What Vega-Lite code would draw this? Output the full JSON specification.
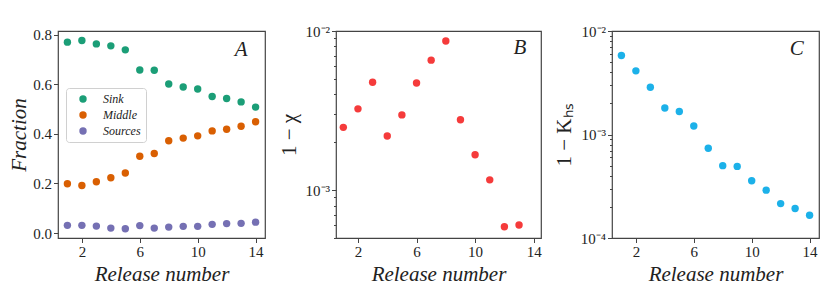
{
  "$schema": "https://vega.github.io/schema/vega-lite/v6.json",
  "padding": {"left": 8, "top": 23, "right": 10, "bottom": 3},
  "background": "white",
  "config": {
    "font": "Liberation Serif",
    "view": {"stroke": "#444", "strokeWidth": 1.2},
    "axis": {
      "grid": false, "domain": false,
      "tickColor": "#444", "tickWidth": 1, "tickSize": 4.5,
      "labelFont": "Liberation Serif", "labelFontSize": 15, "labelColor": "#222", "labelPadding": 2,
      "titleFont": "Liberation Serif", "titleFontSize": 21, "titleFontWeight": "normal", "titleFontStyle": "italic", "titleColor": "#222"
    }
  },
  "datasets": {
    "frac": [
      {"release": 1, "group": "Sink", "fraction": 0.770},
      {"release": 2, "group": "Sink", "fraction": 0.777},
      {"release": 3, "group": "Sink", "fraction": 0.763},
      {"release": 4, "group": "Sink", "fraction": 0.755},
      {"release": 5, "group": "Sink", "fraction": 0.739},
      {"release": 6, "group": "Sink", "fraction": 0.658},
      {"release": 7, "group": "Sink", "fraction": 0.657},
      {"release": 8, "group": "Sink", "fraction": 0.601},
      {"release": 9, "group": "Sink", "fraction": 0.589},
      {"release": 10, "group": "Sink", "fraction": 0.581},
      {"release": 11, "group": "Sink", "fraction": 0.551},
      {"release": 12, "group": "Sink", "fraction": 0.543},
      {"release": 13, "group": "Sink", "fraction": 0.529},
      {"release": 14, "group": "Sink", "fraction": 0.508},
      {"release": 1, "group": "Middle", "fraction": 0.199},
      {"release": 2, "group": "Middle", "fraction": 0.192},
      {"release": 3, "group": "Middle", "fraction": 0.207},
      {"release": 4, "group": "Middle", "fraction": 0.223},
      {"release": 5, "group": "Middle", "fraction": 0.242},
      {"release": 6, "group": "Middle", "fraction": 0.310},
      {"release": 7, "group": "Middle", "fraction": 0.321},
      {"release": 8, "group": "Middle", "fraction": 0.372},
      {"release": 9, "group": "Middle", "fraction": 0.383},
      {"release": 10, "group": "Middle", "fraction": 0.392},
      {"release": 11, "group": "Middle", "fraction": 0.412},
      {"release": 12, "group": "Middle", "fraction": 0.419},
      {"release": 13, "group": "Middle", "fraction": 0.431},
      {"release": 14, "group": "Middle", "fraction": 0.449},
      {"release": 1, "group": "Sources", "fraction": 0.031},
      {"release": 2, "group": "Sources", "fraction": 0.031},
      {"release": 3, "group": "Sources", "fraction": 0.028},
      {"release": 4, "group": "Sources", "fraction": 0.020},
      {"release": 5, "group": "Sources", "fraction": 0.017},
      {"release": 6, "group": "Sources", "fraction": 0.030},
      {"release": 7, "group": "Sources", "fraction": 0.020},
      {"release": 8, "group": "Sources", "fraction": 0.024},
      {"release": 9, "group": "Sources", "fraction": 0.027},
      {"release": 10, "group": "Sources", "fraction": 0.027},
      {"release": 11, "group": "Sources", "fraction": 0.035},
      {"release": 12, "group": "Sources", "fraction": 0.038},
      {"release": 13, "group": "Sources", "fraction": 0.039},
      {"release": 14, "group": "Sources", "fraction": 0.044}
    ],
    "chi": [
      {"release": 1, "value": 0.00248},
      {"release": 2, "value": 0.00324},
      {"release": 3, "value": 0.00476},
      {"release": 4, "value": 0.00219},
      {"release": 5, "value": 0.00297},
      {"release": 6, "value": 0.00471},
      {"release": 7, "value": 0.00656},
      {"release": 8, "value": 0.00865},
      {"release": 9, "value": 0.00277},
      {"release": 10, "value": 0.00167},
      {"release": 11, "value": 0.00116},
      {"release": 12, "value": 0.000589},
      {"release": 13, "value": 0.000604}
    ],
    "khs": [
      {"release": 1, "value": 0.0058},
      {"release": 2, "value": 0.00412},
      {"release": 3, "value": 0.00286},
      {"release": 4, "value": 0.0018},
      {"release": 5, "value": 0.00167},
      {"release": 6, "value": 0.00121},
      {"release": 7, "value": 0.000736},
      {"release": 8, "value": 0.0005},
      {"release": 9, "value": 0.000492},
      {"release": 10, "value": 0.000357},
      {"release": 11, "value": 0.00029},
      {"release": 12, "value": 0.000215},
      {"release": 13, "value": 0.000193},
      {"release": 14, "value": 0.000166}
    ],
    "labels": [
      {"panel": "A", "x": 13.45, "y": 0.738},
      {"panel": "B", "x": 13.5, "y": 0.00785},
      {"panel": "C", "x": 13.6, "y": 0.00663}
    ]
  },
  "hconcat": [
    {
      "width": 207, "height": 207,
      "layer": [
        {
          "data": {"name": "frac"},
          "mark": {"type": "circle", "size": 55, "opacity": 1},
          "encoding": {
            "x": {"field": "release", "type": "quantitative", "scale": {"domain": [0.35, 14.65], "nice": false, "zero": false},
                  "axis": {"values": [2, 4, 6, 8, 10, 12, 14], "title": "Release number", "titlePadding": 4}},
            "y": {"field": "fraction", "type": "quantitative", "scale": {"domain": [-0.02, 0.815], "nice": false, "zero": false},
                  "axis": {"values": [0, 0.2, 0.4, 0.6, 0.8], "format": ".1f", "title": "Fraction", "titlePadding": 3}},
            "color": {"field": "group", "type": "nominal",
                      "scale": {"domain": ["Sink", "Middle", "Sources"], "range": ["#1b9e77", "#d95f02", "#7570b3"]},
                      "legend": {"title": null, "orient": "none", "legendX": 8, "legendY": 57,
                                 "strokeColor": "#d0d0d0", "fillColor": "white", "cornerRadius": 3, "padding": 5,
                                 "symbolType": "circle", "symbolSize": 55, "symbolOffset": 6, "labelOffset": 14,
                                 "labelFont": "Liberation Serif", "labelFontStyle": "italic", "labelFontSize": 12, "labelColor": "#222",
                                 "rowPadding": 4}}
          }
        },
        {
          "data": {"name": "labels"},
          "transform": [{"filter": "datum.panel == 'A'"}],
          "mark": {"type": "text", "align": "right", "baseline": "middle", "fontSize": 21, "fontStyle": "italic", "color": "#222"},
          "encoding": {
            "x": {"field": "x", "type": "quantitative"},
            "y": {"field": "y", "type": "quantitative"},
            "text": {"field": "panel"}
          }
        }
      ]
    },
    {
      "width": 205, "height": 207,
      "layer": [
        {
          "data": {"name": "chi"},
          "mark": {"type": "circle", "size": 55, "opacity": 1, "color": "#f53b3b"},
          "encoding": {
            "x": {"field": "release", "type": "quantitative", "scale": {"domain": [0.5, 14.5], "nice": false, "zero": false},
                  "axis": {"values": [2, 4, 6, 8, 10, 12, 14], "title": "Release number", "titlePadding": 4}},
            "y": {"field": "value", "type": "quantitative", "scale": {"type": "log", "domain": [0.0005, 0.01], "nice": false},
                  "axis": {"values": [0.0005, 0.0006, 0.0007, 0.0008, 0.0009, 0.001, 0.002, 0.003, 0.004, 0.005, 0.006, 0.007, 0.008, 0.009, 0.01],
                           "labelExpr": "abs(datum.value - 0.01) < 1e-9 ? '10⁻²' : (abs(datum.value - 0.001) < 1e-9 ? '10⁻³' : '')",
                           "tickSize": {"condition": {"test": "abs(datum.value - 0.01) < 1e-9 || abs(datum.value - 0.001) < 1e-9", "value": 4.5}, "value": 2.5},
                           "title": "1 − χ", "titleFontStyle": "normal", "titlePadding": 6}}
          }
        },
        {
          "data": {"name": "labels"},
          "transform": [{"filter": "datum.panel == 'B'"}],
          "mark": {"type": "text", "align": "right", "baseline": "middle", "fontSize": 21, "fontStyle": "italic", "color": "#222"},
          "encoding": {
            "x": {"field": "x", "type": "quantitative"},
            "y": {"field": "y", "type": "quantitative"},
            "text": {"field": "panel"}
          }
        }
      ]
    },
    {
      "width": 207, "height": 207,
      "layer": [
        {
          "data": {"name": "khs"},
          "mark": {"type": "circle", "size": 55, "opacity": 1, "color": "#1cb1e9"},
          "encoding": {
            "x": {"field": "release", "type": "quantitative", "scale": {"domain": [0.35, 14.65], "nice": false, "zero": false},
                  "axis": {"values": [2, 4, 6, 8, 10, 12, 14], "title": "Release number", "titlePadding": 4}},
            "y": {"field": "value", "type": "quantitative", "scale": {"type": "log", "domain": [0.0001, 0.01], "nice": false},
                  "axis": {"values": [0.0001, 0.0002, 0.0003, 0.0004, 0.0005, 0.0006, 0.0007, 0.0008, 0.0009, 0.001, 0.002, 0.003, 0.004, 0.005, 0.006, 0.007, 0.008, 0.009, 0.01],
                           "labelExpr": "abs(datum.value - 0.01) < 1e-9 ? '10⁻²' : (abs(datum.value - 0.001) < 1e-9 ? '10⁻³' : (abs(datum.value - 0.0001) < 1e-10 ? '10⁻⁴' : ''))",
                           "tickSize": {"condition": {"test": "abs(datum.value - 0.01) < 1e-9 || abs(datum.value - 0.001) < 1e-9 || abs(datum.value - 0.0001) < 1e-10", "value": 4.5}, "value": 2.5},
                           "title": "1 − Kₕₛ", "titleFontStyle": "normal", "titlePadding": 6}}
          }
        },
        {
          "data": {"name": "labels"},
          "transform": [{"filter": "datum.panel == 'C'"}],
          "mark": {"type": "text", "align": "right", "baseline": "middle", "fontSize": 21, "fontStyle": "italic", "color": "#222"},
          "encoding": {
            "x": {"field": "x", "type": "quantitative"},
            "y": {"field": "y", "type": "quantitative"},
            "text": {"field": "panel"}
          }
        }
      ]
    }
  ],
  "bounds": "flush",
  "spacing": 71
}
